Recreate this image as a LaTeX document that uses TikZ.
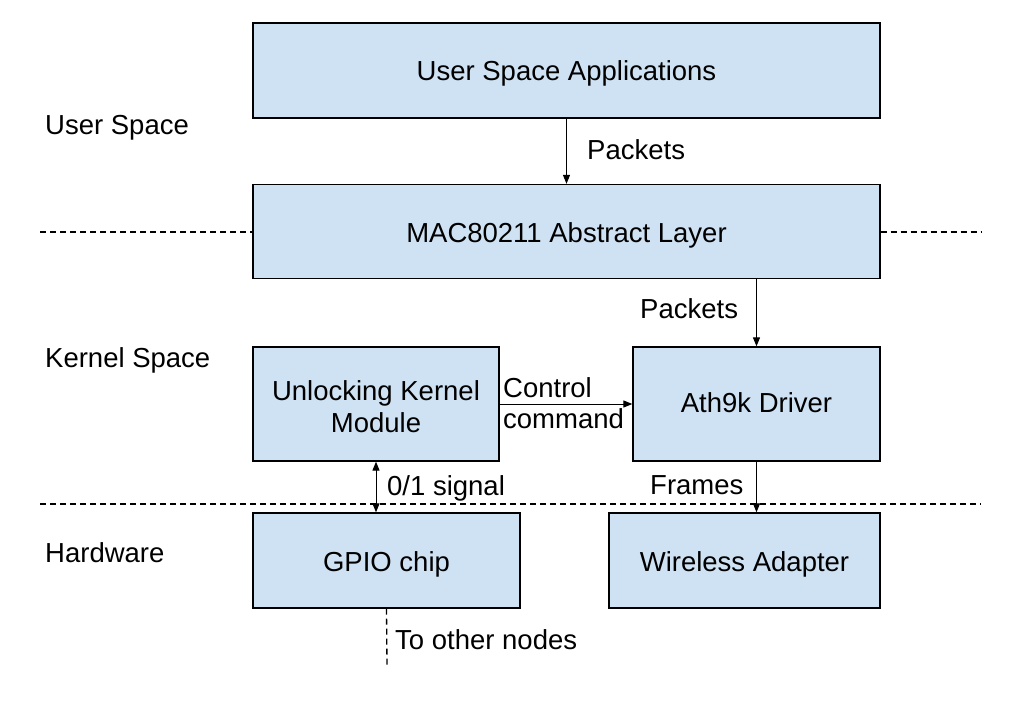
\documentclass[tikz,border=0pt]{standalone}
\usepackage{fontspec}
\setmainfont{Liberation Sans}
\usetikzlibrary{arrows.meta}
\definecolor{boxfill}{HTML}{CFE2F3}
\tikzset{
  box/.style={draw=black, fill=boxfill, line width=1.3pt, inner sep=0pt, align=center, font=\fontsize{27.5}{32}\selectfont},
  tdown/.style={text height=20pt+2*#1 pt, text depth=6pt},
  lbl/.style={inner sep=0pt, anchor=base west, font=\fontsize{27.5}{32}\selectfont},
  arr/.style={line width=1pt, -{Triangle[length=9pt,width=7pt]}},
  darr/.style={line width=1pt, {Triangle[length=9pt,width=7pt]}-{Triangle[length=9pt,width=7pt]}},
  sep/.style={line width=1.3pt, dash pattern=on 6pt off 4pt},
}
\begin{document}
\begin{tikzpicture}[x=1pt,y=-1pt]
\useasboundingbox (0,0) rectangle (1018,701);
% boxes
\node[box, tdown=3, minimum width=627, minimum height=95] (usa) at (566.5,70.5) {User Space Applications};
\node[box, tdown=4, minimum width=627, minimum height=94] (mac) at (566.5,231.5) {MAC80211 Abstract Layer};
\node[box, text height=56pt, text depth=0pt, minimum width=246, minimum height=114] (ukm) at (376,404) {Unlocking Kernel\\Module};
\node[box, tdown=1, minimum width=247, minimum height=114] (ath) at (756.5,404) {Ath9k Driver};
\node[box, tdown=4, minimum width=267, minimum height=95] (gpio) at (386.5,560.5) {GPIO chip};
\node[box, tdown=4, minimum width=271, minimum height=95] (wa) at (744.5,560.5) {Wireless Adapter};
% layer labels
\node[lbl] (lus) at (45,135) {User Space};
\node[lbl] (lks) at (45,367) {Kernel Space};
\node[lbl] (lhw) at (45,562) {Hardware};
% separators
\coordinate (s1a) at (40,232);
\coordinate (s1b) at (981,232);
\coordinate (s2a) at (40,504);
\coordinate (s2b) at (981,504);
\draw[sep] (s1a) -- (mac.west |- s1a);
\draw[sep] (mac.east |- s1b) -- (s1b);
\draw[sep] (s2a) -- (s2b);
% connectors
\draw[arr] (usa.south) -- (mac.north);
\node[lbl] (p1) at (587,159) {Packets};
\draw[arr] (ath.north |- mac.south) -- (ath.north);
\node[lbl] (p2) at (640,318) {Packets};
\draw[arr] (ukm.east) -- (ath.west);
\node[lbl] (c1) at (503,397) {Control};
\node[lbl] (c2) at (503,428) {command};
\draw[darr] (ukm.south) -- (ukm.south |- gpio.north);
\node[lbl] (sig) at (387,495) {0/1 signal};
\draw[arr] (ath.south) -- (ath.south |- wa.north);
\node[lbl] (fr) at (650,494) {Frames};
\coordinate (oth) at (387,666);
\draw[sep] (gpio.south) -- (oth);
\node[lbl] (ton) at (395,649) {To other nodes};
\end{tikzpicture}
\end{document}
